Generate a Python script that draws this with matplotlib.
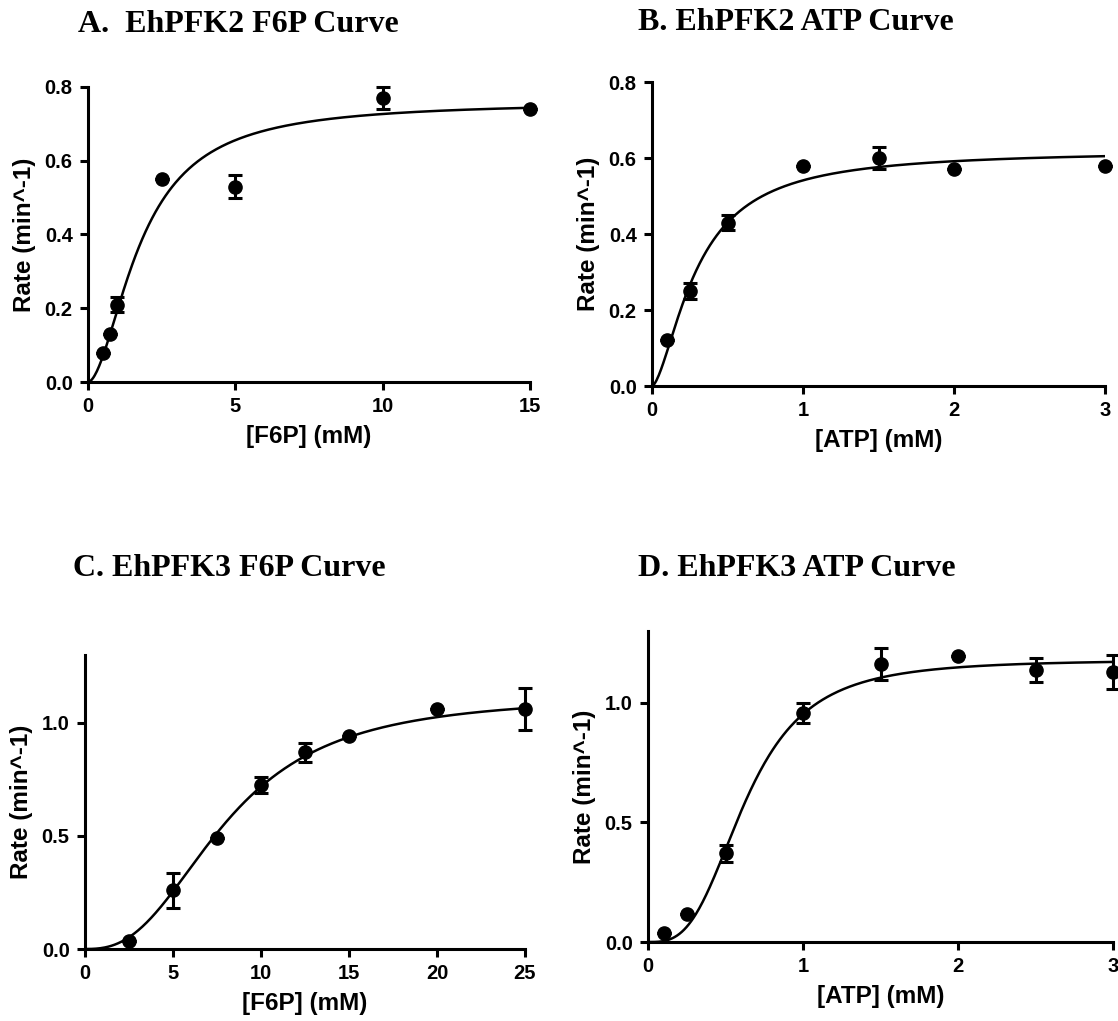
import numpy as np
import matplotlib
matplotlib.use("Agg")
import matplotlib.pyplot as plt

# ---------------- data ----------------
# Panel A: EhPFK2, F6P
a_x = [0.5, 0.75, 1.0, 2.5, 5.0, 10.0, 15.0]
a_y = [0.08, 0.13, 0.21, 0.55, 0.53, 0.77, 0.74]
a_err = [0.0, 0.0, 0.02, 0.0, 0.03, 0.03, 0.0]
a_fit = dict(vmax=0.76, k=1.8, n=1.8)

# Panel B: EhPFK2, ATP
b_x = [0.1, 0.25, 0.5, 1.0, 1.5, 2.0, 3.0]
b_y = [0.12, 0.25, 0.43, 0.58, 0.60, 0.57, 0.58]
b_err = [0.0, 0.02, 0.02, 0.0, 0.03, 0.0, 0.0]
b_fit = dict(vmax=0.62, k=0.30, n=1.6)

# Panel C: EhPFK3, F6P
c_x = [2.5, 5.0, 7.5, 10.0, 12.5, 15.0, 20.0, 25.0]
c_y = [0.035, 0.26, 0.49, 0.725, 0.87, 0.94, 1.06, 1.06]
c_err = [0.0, 0.078, 0.0, 0.037, 0.043, 0.0, 0.0, 0.093]
c_fit = dict(vmax=1.12, k=8.0, n=2.6)

# Panel D: EhPFK3, ATP
d_x = [0.1, 0.25, 0.5, 1.0, 1.5, 2.0, 2.5, 3.0]
d_y = [0.037, 0.115, 0.37, 0.957, 1.162, 1.197, 1.137, 1.128]
d_err = [0.0, 0.0, 0.037, 0.04, 0.068, 0.0, 0.049, 0.072]
d_fit = dict(vmax=1.18, k=0.63, n=3.1)

titles = ["A.  EhPFK2 F6P Curve", "B. EhPFK2 ATP Curve",
          "C. EhPFK3 F6P Curve", "D. EhPFK3 ATP Curve"]
xlabels = ["[F6P] (mM)", "[ATP] (mM)", "[F6P] (mM)", "[ATP] (mM)"]
ylabel = "Rate (min^-1)"
xticks_list = [[0, 5, 10, 15], [0, 1, 2, 3], [0, 5, 10, 15, 20, 25], [0, 1, 2, 3]]
yticks_list = [[0.0, 0.2, 0.4, 0.6, 0.8], [0.0, 0.2, 0.4, 0.6, 0.8],
               [0.0, 0.5, 1.0], [0.0, 0.5, 1.0]]
ytick_labels = [["0.0", "0.2", "0.4", "0.6", "0.8"], ["0.0", "0.2", "0.4", "0.6", "0.8"],
                ["0.0", "0.5", "1.0"], ["0.0", "0.5", "1.0"]]
xlims = [15, 3, 25, 3]
ylims = [0.8, 0.8, 1.3, 1.3]

# ---------------- layout ----------------
W, H = 1118, 1021
fig = plt.figure(figsize=(W / 100, H / 100), dpi=100)

# (left, right, bottom, top) in pixels
boxes = [(88, 530, 382, 87), (652, 1105, 386, 82),
         (85, 525, 949, 655), (648, 1113, 942, 631)]
title_pos = [(78, 24), (638, 22), (73, 569), (638, 569)]

sans = "Liberation Sans"
serif = "Liberation Serif"

panels = [(a_x, a_y, a_err, a_fit), (b_x, b_y, b_err, b_fit),
          (c_x, c_y, c_err, c_fit), (d_x, d_y, d_err, d_fit)]

for i, (xs, ys, es, fit) in enumerate(panels):
    l, r, b, t = boxes[i]
    ax = fig.add_axes([l / W, 1 - b / H, (r - l) / W, (b - t) / H])
    xx = np.linspace(0, xlims[i], 400)
    yy = fit["vmax"] * xx ** fit["n"] / (fit["k"] ** fit["n"] + xx ** fit["n"])
    ax.plot(xx, yy, color="black", lw=1.8, zorder=2)
    ax.errorbar(xs, ys, yerr=es, fmt="o", color="black", ms=9.5,
                elinewidth=2.2, capsize=5, capthick=2.2, clip_on=False, zorder=3)
    ax.set_xlim(0, xlims[i])
    ax.set_ylim(0, ylims[i])
    ax.set_xticks(xticks_list[i])
    ax.set_yticks(yticks_list[i])
    ax.set_yticklabels(ytick_labels[i])
    for s in ["top", "right"]:
        ax.spines[s].set_visible(False)
    for s in ["left", "bottom"]:
        ax.spines[s].set_linewidth(2.2)
    ax.tick_params(axis="both", direction="out", length=6, width=2.2,
                   labelsize=14.5)
    ax.tick_params(axis="x", pad=5)
    ax.tick_params(axis="y", pad=5)
    for lab in ax.get_xticklabels() + ax.get_yticklabels():
        lab.set_fontfamily(sans)
        lab.set_fontweight("bold")
    ax.set_xlabel(xlabels[i], fontsize=17.5, fontweight="bold", family=sans, labelpad=6)
    ax.set_ylabel(ylabel, fontsize=17.5, fontweight="bold", family=sans, labelpad=6)
    tx, ty = title_pos[i]
    fig.text(tx / W, 1 - ty / H, titles[i], fontsize=23, fontweight="bold",
             family=serif, ha="left", va="center")

fig.savefig("out.png", dpi=100)
